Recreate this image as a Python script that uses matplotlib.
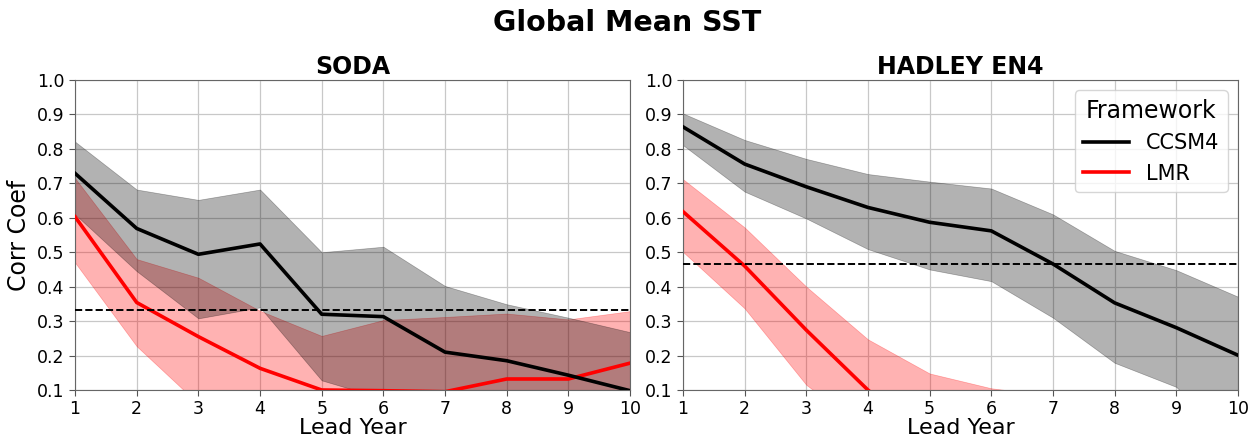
import numpy as np
import matplotlib
matplotlib.use("Agg")
import matplotlib.pyplot as plt

lead_years = [1, 2, 3, 4, 5, 6, 7, 8, 9, 10]

# SODA
soda_ccsm4_mean = [0.729, 0.569, 0.494, 0.524, 0.320, 0.313, 0.210, 0.185, 0.143, 0.098]
soda_ccsm4_upper = [0.821, 0.682, 0.652, 0.682, 0.500, 0.516, 0.402, 0.349, 0.310, 0.268]
soda_ccsm4_lower = [0.610, 0.445, 0.308, 0.340, 0.128, 0.075, 0.030, 0.000, -0.020, -0.050]
soda_lmr_mean = [0.603, 0.354, 0.255, 0.163, 0.100, 0.098, 0.095, 0.132, 0.132, 0.178]
soda_lmr_upper = [0.715, 0.480, 0.426, 0.330, 0.257, 0.303, 0.312, 0.322, 0.305, 0.329]
soda_lmr_lower = [0.470, 0.227, 0.060, -0.080, -0.120, -0.120, -0.120, -0.080, -0.080, -0.050]
soda_threshold = 0.333

# HADLEY EN4
had_ccsm4_mean = [0.864, 0.756, 0.690, 0.630, 0.587, 0.562, 0.466, 0.353, 0.281, 0.201]
had_ccsm4_upper = [0.903, 0.826, 0.771, 0.727, 0.705, 0.685, 0.610, 0.504, 0.448, 0.371]
had_ccsm4_lower = [0.811, 0.676, 0.598, 0.509, 0.450, 0.416, 0.310, 0.179, 0.109, -0.070]
had_lmr_mean = [0.618, 0.460, 0.274, 0.100, -0.050, -0.100, -0.150, -0.150, -0.150, -0.150]
had_lmr_upper = [0.712, 0.572, 0.400, 0.247, 0.148, 0.105, 0.083, 0.050, 0.030, 0.020]
had_lmr_lower = [0.501, 0.337, 0.115, -0.020, -0.200, -0.250, -0.300, -0.300, -0.300, -0.300]
had_threshold = 0.467

panel_titles = ["SODA", "HADLEY EN4"]
series_names = ["CCSM4", "LMR"]
y_ticks = [0.1, 0.2, 0.3, 0.4, 0.5, 0.6, 0.7, 0.8, 0.9, 1.0]

fig = plt.figure(figsize=(12.55, 4.36), dpi=100)
ax1 = fig.add_axes([0.0598, 0.1055, 0.4422, 0.711])
ax2 = fig.add_axes([0.5442, 0.1055, 0.4422, 0.711])

panels = [
    (ax1, soda_ccsm4_mean, soda_ccsm4_upper, soda_ccsm4_lower,
     soda_lmr_mean, soda_lmr_upper, soda_lmr_lower, soda_threshold),
    (ax2, had_ccsm4_mean, had_ccsm4_upper, had_ccsm4_lower,
     had_lmr_mean, had_lmr_upper, had_lmr_lower, had_threshold),
]

for i, (ax, cm, cu, cl, lm, lu, ll, thr) in enumerate(panels):
    ax.fill_between(lead_years, ll, lu, color="red", alpha=0.3, lw=0.5, zorder=1)
    ax.fill_between(lead_years, cl, cu, color="black", alpha=0.3, lw=0.5, zorder=1.1)
    ax.plot(lead_years, lm, color="red", lw=2.6, label=series_names[1], zorder=3)
    ax.plot(lead_years, cm, color="black", lw=2.6, label=series_names[0], zorder=3.1)
    ax.axhline(thr, color="black", ls="--", lw=1.4, zorder=4)
    ax.set_xlim(1, 10)
    ax.set_ylim(0.1, 1.0)
    ax.set_xticks(lead_years)
    ax.set_yticks(y_ticks)
    ax.set_yticklabels([f"{v:.1f}" for v in y_ticks])
    ax.tick_params(labelsize=12.5, length=4, color="#555555")
    ax.grid(True, color="#c8c8c8", lw=0.9)
    ax.set_axisbelow(True)
    for s in ax.spines.values():
        s.set_color("#666666")
    ax.set_title(panel_titles[i], fontsize=17, fontweight="bold", pad=4)
    ax.set_xlabel("Lead Year", fontsize=16, labelpad=0)

ax1.set_ylabel("Corr Coef", fontsize=17, labelpad=4)

handles, labels = ax2.get_legend_handles_labels()
order = [labels.index("CCSM4"), labels.index("LMR")]
leg = ax2.legend([handles[k] for k in order], [labels[k] for k in order],
                 title="Framework", loc="upper right", fontsize=15,
                 title_fontsize=17, framealpha=0.8, handlelength=2.2)

fig.suptitle("Global Mean SST", fontsize=20.5, fontweight="bold", y=0.98)

fig.savefig("out.png", dpi=100)
